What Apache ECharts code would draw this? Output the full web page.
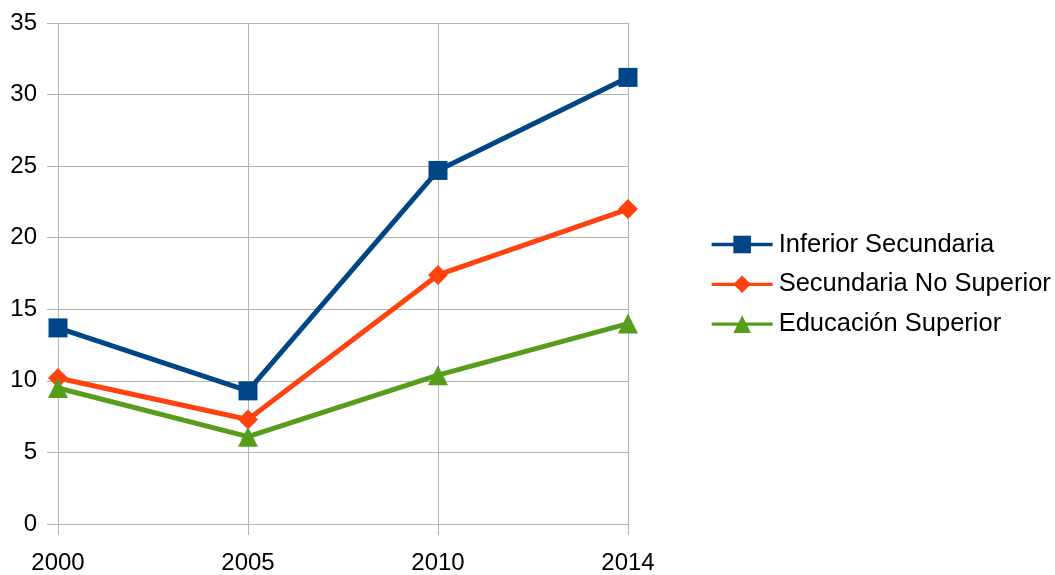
<!DOCTYPE html>
<html><head><meta charset="utf-8">
<script src="https://cdn.jsdelivr.net/npm/echarts@6/dist/echarts.min.js"></script>
<style>html,body{margin:0;padding:0;background:#fff}#c{width:1055px;height:575px}</style>
</head><body><div id="c"></div>
<script>
const categories = ['2000', '2005', '2010', '2014'];
const inferiorSecundaria = [13.7, 9.3, 24.7, 31.2];
const secundariaNoSuperior = [10.2, 7.3, 17.4, 22.0];
const educacionSuperior = [9.5, 6.1, 10.4, 14.0];
const seriesNames = ['Inferior Secundaria', 'Secundaria No Superior', 'Educación Superior'];

const chart = echarts.init(document.getElementById('c'), null, {renderer: 'canvas'});
const font = 'Liberation Sans, Arial, sans-serif';
function mk(name, data, color, symbol, size) {
  return {
    name, type: 'line', data, symbol, symbolSize: size,
    lineStyle: {color, width: 5},
    itemStyle: {color},
    animation: false
  };
}
chart.setOption({
  animation: false,
  grid: {left: 58, right: 427, top: 23, bottom: 48},
  legend: {
    left: 710, top: 231.5, orient: 'vertical', padding: 0,
    itemWidth: 61, itemHeight: 22, itemGap: 13.8,
    lineStyle: {width: 3.3},
    textStyle: {fontFamily: font, fontSize: 25.5, color: '#000', padding: [0, 0, 0, 1]},
    data: seriesNames
  },
  xAxis: {
    type: 'category', data: categories, boundaryGap: false,
    axisLine: {lineStyle: {color: '#b3b3b3', width: 1}},
    axisTick: {show: true, length: 11, inside: false, lineStyle: {color: '#b3b3b3'}},
    axisLabel: {fontFamily: font, fontSize: 24, color: '#000', margin: 27},
    splitLine: {show: true, lineStyle: {color: '#b3b3b3', width: 1}}
  },
  yAxis: {
    type: 'value', min: 0, max: 35, interval: 5,
    axisLine: {show: true, lineStyle: {color: '#b3b3b3', width: 1}},
    axisTick: {show: true, length: 11, lineStyle: {color: '#b3b3b3'}},
    axisLabel: {fontFamily: font, fontSize: 24, color: '#000', margin: 21, padding: [3, 0, 0, 0]},
    splitLine: {show: true, lineStyle: {color: '#b3b3b3', width: 1}}
  },
  series: [
    mk(seriesNames[0], inferiorSecundaria, '#004586', 'rect', 19),
    mk(seriesNames[1], secundariaNoSuperior, '#ff420e', 'diamond', 20),
    mk(seriesNames[2], educacionSuperior, '#579d1c', 'triangle', 20)
  ]
});
</script></body></html>
